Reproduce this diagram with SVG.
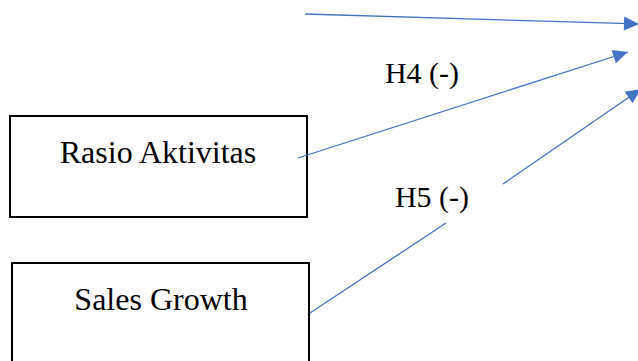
<svg xmlns="http://www.w3.org/2000/svg" width="638" height="361" viewBox="0 0 638 361">
  <style>
    .box { fill: #ffffff; stroke: #000000; stroke-width: 2; }
    .label { font-family: "Liberation Serif", "Times New Roman", serif; font-size: 32px; fill: #000000; text-anchor: middle; }
    .tag { font-family: "Liberation Serif", "Times New Roman", serif; font-size: 30px; fill: #000000; text-anchor: middle; }
    .edge { fill: none; stroke: #4472C4; stroke-width: 1.3; }
  </style>
  <defs>
    <marker id="arrow" markerUnits="userSpaceOnUse" markerWidth="17" markerHeight="17" viewBox="0 0 17 17" refX="16" refY="8.5" orient="auto">
      <path d="M1,1.5 L16,8.5 L1,15.5 Z" fill="#4472C4"/>
    </marker>
  </defs>

  <g id="node-rasio-aktivitas">
    <rect class="box" x="10" y="116" width="297" height="101"/>
    <text class="label" x="158" y="163">Rasio Aktivitas</text>
  </g>

  <g id="node-sales-growth">
    <rect class="box" x="12" y="263" width="297" height="110"/>
    <text class="label" x="161" y="310">Sales Growth</text>
  </g>

  <g id="connectors">
    <line class="edge" x1="305" y1="14" x2="639" y2="24" marker-end="url(#arrow)"/>
    <line class="edge" x1="298" y1="158" x2="628" y2="52" marker-end="url(#arrow)"/>
    <line class="edge" x1="310" y1="313" x2="446" y2="223"/>
    <line class="edge" x1="503" y1="184" x2="641" y2="89" marker-end="url(#arrow)"/>
    <text class="tag" x="422" y="83">H4 (-)</text>
    <text class="tag" x="432" y="207">H5 (-)</text>
  </g>
</svg>
